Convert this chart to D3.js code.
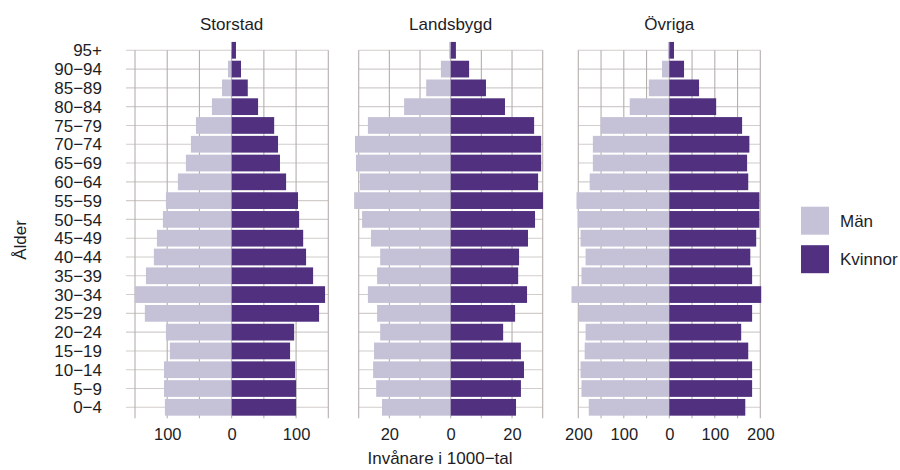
<!DOCTYPE html>
<html>
<head>
<meta charset="utf-8">
<script src="https://cdn.jsdelivr.net/npm/d3@7"></script>
<style>
  html, body { margin: 0; padding: 0; background: #ffffff; }
  svg { display: block; font-family: "Liberation Sans", Arial, sans-serif; }
</style>
</head>
<body>
<svg id="chart" width="900" height="470"></svg>
<script>
// ---- Data (values in thousands; age groups listed from youngest to oldest) ----
const ageGroups = ["0−4","5−9","10−14","15−19","20−24","25−29","30−34","35−39","40−44","45−49",
                   "50−54","55−59","60−64","65−69","70−74","75−79","80−84","85−89","90−94","95+"];
const panelNames = ["Storstad", "Landsbygd", "Övriga"];
const seriesNames = ["Män", "Kvinnor"];

const menStorstad     = [103.6, 105, 105, 95.9, 102, 134.7, 150.3, 133, 120.7, 116, 106.7, 102, 83.4, 71, 63.2, 55.4, 30.6, 15, 5.7, 1];
const womenStorstad   = [100, 100, 98.4, 90.7, 97, 135.7, 145, 126.4, 115.5, 111, 104.7, 103, 84.5, 75, 72, 66, 41, 25, 14.5, 6.7];
const menLandsbygd    = [22.4, 24.3, 25.3, 25.0, 23.0, 24.0, 27.0, 24.0, 23.0, 26.0, 28.9, 31.5, 29.6, 30.9, 31.2, 27.0, 15.2, 8.0, 3.2, 0.5];
const womenLandsbygd  = [21.3, 22.9, 23.9, 22.9, 17.1, 21.0, 24.9, 22.0, 22.3, 25.2, 27.5, 30.1, 28.5, 29.5, 29.5, 27.2, 17.7, 11.5, 6.0, 1.7];
const menOvriga       = [177, 193, 195, 186, 184, 199, 215, 193, 184, 195, 201.5, 204, 175, 168, 168, 151, 87, 45, 16, 3];
const womenOvriga     = [167, 182, 182, 173.5, 158, 182, 202, 182, 178, 191, 198, 198, 173.5, 171, 176, 160, 103, 65.4, 32.4, 10.3];

// grid lines and labelled ticks for each panel
const gridStorstad   = [-150, -100, -50, 0, 50, 100, 150];
const labelStorstad  = [-100, 0, 100];
const gridLandsbygd  = [-30, -20, -10, 0, 10, 20, 30];
const labelLandsbygd = [-20, 0, 20];
const gridOvriga     = [-200, -150, -100, -50, 0, 50, 100, 150, 200];
const labelOvriga    = [-200, -100, 0, 100, 200];

const xAxisTitle = "Invånare i 1000−tal";
const yAxisTitle = "Ålder";

// ---- Layout / style ----
const colMen = "#c5c2d7";
const colWomen = "#50307f";
const gridV = "#b5afad";
const gridH = "#d2cdcb";
const textCol = "#1d1d26";
const fontSize = 17;

const panels = [
  { name: panelNames[0], men: menStorstad,  women: womenStorstad,  grid: gridStorstad,  labels: labelStorstad,  px: [135, 328.3] },
  { name: panelNames[1], men: menLandsbygd, women: womenLandsbygd, grid: gridLandsbygd, labels: labelLandsbygd, px: [358.7, 542.7] },
  { name: panelNames[2], men: menOvriga,    women: womenOvriga,    grid: gridOvriga,    labels: labelOvriga,    px: [578.3, 760.3] }
];

const svg = d3.select("#chart");

// y band scale: oldest on top
const y = d3.scaleBand()
  .domain(ageGroups.slice().reverse())
  .range([40.9, 416.7])
  .paddingInner(0.11)
  .paddingOuter(0.055);
const yc = d => y(d) + y.bandwidth() / 2;
const yTop = yc("95+");
const yBottom = yc("0−4");
const tickLen = 11;

panels.forEach((p, pi) => {
  const g = svg.append("g");
  const ext = d3.extent(p.grid);
  const x = d3.scaleLinear().domain(ext).range(p.px);

  // horizontal grid lines
  const hx0 = pi === 0 ? x(ext[0]) - 9 : x(ext[0]);
  g.selectAll("line.h").data(ageGroups).join("line")
    .attr("x1", hx0).attr("x2", x(ext[1]))
    .attr("y1", d => yc(d)).attr("y2", d => yc(d))
    .attr("stroke", gridH).attr("stroke-width", 1.1);

  // vertical grid lines (extend below as ticks)
  g.selectAll("line.v").data(p.grid).join("line")
    .attr("x1", d => x(d)).attr("x2", d => x(d))
    .attr("y1", yTop).attr("y2", yBottom + tickLen)
    .attr("stroke", gridV).attr("stroke-width", 1.1);

  // bars: men (negative side)
  g.selectAll("rect.m").data(ageGroups).join("rect")
    .attr("x", (d, i) => x(-p.men[i]))
    .attr("width", (d, i) => x(0) - x(-p.men[i]))
    .attr("y", d => y(d)).attr("height", y.bandwidth())
    .attr("fill", colMen);
  // bars: women (positive side)
  g.selectAll("rect.w").data(ageGroups).join("rect")
    .attr("x", x(0))
    .attr("width", (d, i) => x(p.women[i]) - x(0))
    .attr("y", d => y(d)).attr("height", y.bandwidth())
    .attr("fill", colWomen);

  // x axis labels
  const axis = d3.axisBottom(x)
    .tickValues(p.labels)
    .tickSize(0)
    .tickPadding(0)
    .tickFormat(d => d3.format("d")(Math.abs(d)));
  const ag = g.append("g").attr("transform", `translate(0,${439.5 - fontSize * 0.72})`).call(axis);
  ag.select(".domain").remove();
  ag.selectAll("text")
    .attr("dy", null).attr("y", fontSize * 0.72)
    .attr("font-size", 16.5).attr("fill", textCol)
    .attr("font-family", "Liberation Sans, Arial, sans-serif");

  // panel title
  g.append("text")
    .attr("x", x(0)).attr("y", 29.5)
    .attr("text-anchor", "middle")
    .attr("font-size", fontSize).attr("fill", textCol)
    .text(p.name);
});

// y axis labels
svg.append("g").selectAll("text").data(ageGroups).join("text")
  .attr("x", 102).attr("y", d => yc(d))
  .attr("dy", "0.36em")
  .attr("text-anchor", "end")
  .attr("font-size", fontSize).attr("fill", textCol)
  .text(d => d);

// axis titles
svg.append("text")
  .attr("x", 440).attr("y", 464)
  .attr("text-anchor", "middle")
  .attr("font-size", fontSize).attr("fill", textCol)
  .text(xAxisTitle);

svg.append("text")
  .attr("transform", "translate(26,240) rotate(-90)")
  .attr("text-anchor", "middle")
  .attr("font-size", fontSize).attr("fill", textCol)
  .text(yAxisTitle);

// legend
const legend = svg.append("g");
const legColors = [colMen, colWomen];
seriesNames.forEach((s, i) => {
  const ly = 206.7 + i * 38.5;
  legend.append("rect")
    .attr("x", 801).attr("y", ly).attr("width", 28).attr("height", 28)
    .attr("fill", legColors[i]);
  legend.append("text")
    .attr("x", 840).attr("y", ly + 14).attr("dy", "0.36em")
    .attr("font-size", fontSize).attr("fill", textCol)
    .text(s);
});
</script>
</body>
</html>
